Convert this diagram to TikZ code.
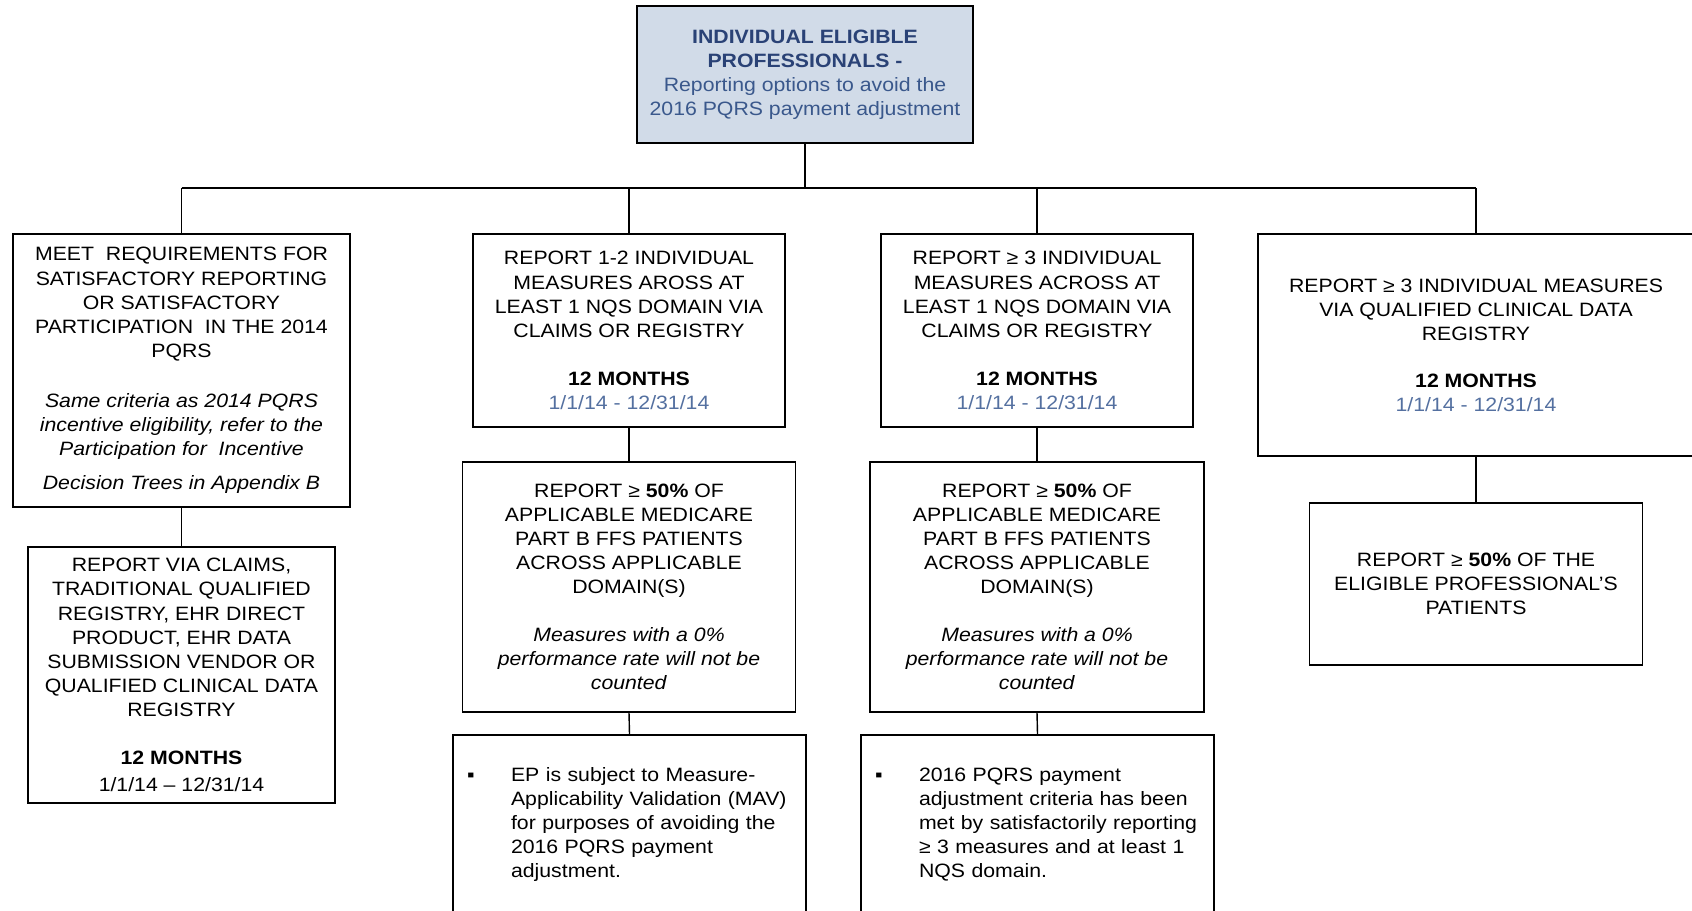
\documentclass[tikz,border=0pt]{standalone}
\usepackage{fontspec}
\setmainfont{Liberation Sans}[FakeStretch=1.1]
\usepackage{xcolor}

\definecolor{headfill}{RGB}{209,219,232}
\definecolor{headblue}{RGB}{42,66,118}
\definecolor{subblue}{RGB}{58,88,140}
\definecolor{dateblue}{RGB}{84,112,160}

\begin{document}
\begin{tikzpicture}[x=0.02cm,y=-0.02cm,
	box/.style={draw,line width=0.8pt,rectangle,align=center,inner sep=0pt,
		font=\fontsize{11}{13.7}\selectfont},
	headbox/.style={box,fill=headfill},
	notebox/.style={box,align=left,text width=6.5cm,minimum width=7.06cm,minimum height=3.6cm},
	wire/.style={line width=0.8pt}]
	\useasboundingbox (0,0) rectangle (1692,911);
	\node [headbox,minimum width=6.72cm,minimum height=2.74cm] (head) at (805,74.5) {\textcolor{headblue}{\textbf{INDIVIDUAL ELIGIBLE}}\\
		\textcolor{headblue}{\textbf{PROFESSIONALS -}}\\
		\textcolor{subblue}{Reporting options to avoid the}\\
		\textcolor{subblue}{2016 PQRS payment adjustment}};
	\node [box,minimum width=6.74cm,minimum height=5.46cm] (meet) at (181.5,370.5) {MEET\ \ REQUIREMENTS FOR\\SATISFACTORY REPORTING\\OR SATISFACTORY\\
		PARTICIPATION\ \ IN THE 2014\\PQRS\\[0.52cm]
		\textit{Same criteria as 2014 PQRS}\\\textit{incentive eligibility, refer to the}\\
		\textit{Participation for\ \ Incentive}\\[0.2cm]\textit{Decision Trees in Appendix B}};
	\node [box,minimum width=6.14cm,minimum height=5.12cm] (meetvia) at (181.5,675) {REPORT VIA CLAIMS,\\TRADITIONAL QUALIFIED\\REGISTRY, EHR DIRECT\\
		PRODUCT, EHR DATA\\SUBMISSION VENDOR OR\\QUALIFIED CLINICAL DATA\\REGISTRY\\[0.48cm]
		\textbf{12 MONTHS}\\[0.06cm]1/1/14 -- 12/31/14};
	\node [box,minimum width=6.24cm,minimum height=3.86cm] (few) at (629,330.5) {REPORT 1-2 INDIVIDUAL\\MEASURES AROSS AT\\LEAST 1 NQS DOMAIN VIA\\CLAIMS OR REGISTRY\\[0.48cm]
		\textbf{12 MONTHS}\\\textcolor{dateblue}{1/1/14 - 12/31/14}};
	\node [box,minimum width=6.66cm,minimum height=5cm] (fewpct) at (629,587) {REPORT ≥ \textbf{50\%} OF\\APPLICABLE MEDICARE\\PART B FFS PATIENTS\\ACROSS APPLICABLE\\DOMAIN(S)\\[0.48cm]
		\textit{Measures with a 0\%}\\\textit{performance rate will not be}\\\textit{counted}};
	\node [notebox] (fewnote) at (629.5,825) {\begin{tabular}{@{}p{0.88cm}@{}l@{}}
		▪ & EP is subject to Measure-\\
		  & Applicability Validation (MAV)\\
		  & for purposes of avoiding the\\
		  & 2016 PQRS payment\\
		  & adjustment.
		\end{tabular}};
	\node [box,minimum width=6.24cm,minimum height=3.86cm] (three) at (1037,330.5) {REPORT ≥ 3 INDIVIDUAL\\MEASURES ACROSS AT\\LEAST 1 NQS DOMAIN VIA\\CLAIMS OR REGISTRY\\[0.48cm]
		\textbf{12 MONTHS}\\\textcolor{dateblue}{1/1/14 - 12/31/14}};
	\node [box,minimum width=6.68cm,minimum height=5cm] (threepct) at (1037,587) {REPORT ≥ \textbf{50\%} OF\\APPLICABLE MEDICARE\\PART B FFS PATIENTS\\ACROSS APPLICABLE\\DOMAIN(S)\\[0.48cm]
		\textit{Measures with a 0\%}\\\textit{performance rate will not be}\\\textit{counted}};
	\node [notebox] (threenote) at (1037.5,825) {\begin{tabular}{@{}p{0.88cm}@{}l@{}}
		▪ & 2016 PQRS payment\\
		  & adjustment criteria has been\\
		  & met by satisfactorily reporting\\
		  & ≥ 3 measures and at least 1\\
		  & NQS domain.
		\end{tabular}};
	\node [box,minimum width=8.72cm,minimum height=4.44cm] (qcdr) at (1476,345) {REPORT ≥ 3 INDIVIDUAL MEASURES\\VIA QUALIFIED CLINICAL DATA\\REGISTRY\\[0.46cm]
		\textbf{12 MONTHS}\\\textcolor{dateblue}{1/1/14 - 12/31/14}};
	\node [box,minimum width=6.66cm,minimum height=3.24cm] (qcdrpct) at (1476,584) {REPORT ≥ \textbf{50\%} OF THE\\ELIGIBLE PROFESSIONAL’S\\PATIENTS};
	\coordinate (bus) at (805,188);
	\draw [wire] (head.south) -- (bus);
	\draw [wire] (meet.north |- bus) -- (qcdr.north |- bus);
	\foreach \n in {meet,few,three,qcdr}
		\draw [wire] (\n.north |- bus) -- (\n.north);
	\draw [wire] (meet.south) -- (meetvia.north);
	\draw [wire] (few.south) -- (fewpct.north);
	\draw [wire] (fewpct.south) -- (fewnote.north);
	\draw [wire] (three.south) -- (threepct.north);
	\draw [wire] (threepct.south) -- (threenote.north);
	\draw [wire] (qcdr.south) -- (qcdrpct.north);
\end{tikzpicture}
\end{document}
